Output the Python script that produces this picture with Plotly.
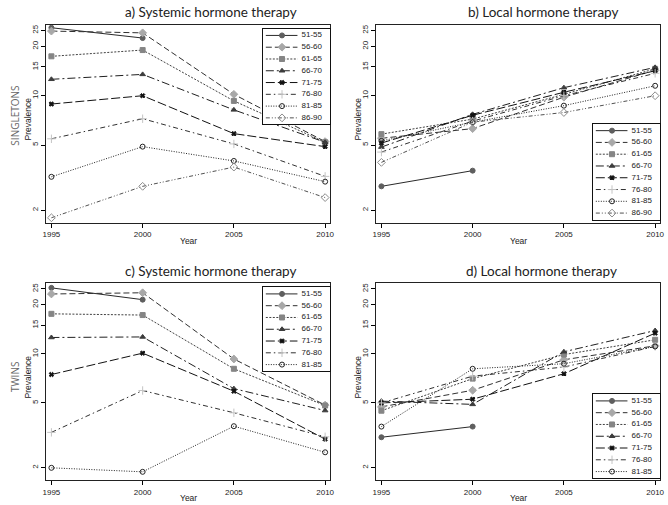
import plotly.graph_objects as go

# ---------------- data ----------------
years = [1995, 2000, 2005, 2010]
cohorts_singletons = ["51-55", "56-60", "61-65", "66-70", "71-75", "76-80", "81-85", "86-90"]
cohorts_twins = ["51-55", "56-60", "61-65", "66-70", "71-75", "76-80", "81-85"]
y_ticks = [2, 5, 10, 15, 20, 25]

singletons_systemic = [
    [26.0, 22.5, None, None],
    [24.8, 24.2, 10.2, 5.25],
    [17.4, 19.0, 9.3, 5.2],
    [12.6, 13.5, 8.2, 5.2],
    [8.9, 10.0, 5.87, 4.89],
    [5.46, 7.24, 5.08, 3.22],
    [3.2, 4.89, 4.0, 2.99],
    [1.8, 2.8, 3.67, 2.39],
]
singletons_local = [
    [2.8, 3.49, None, None],
    [5.5, 6.3, 9.8, 14.3],
    [5.83, 7.2, 10.2, 14.6],
    [4.86, 7.7, 11.2, 14.9],
    [5.14, 7.6, 10.5, 14.2],
    [4.53, 7.0, 10.0, 13.7],
    [5.3, 6.9, 8.7, 11.5],
    [3.92, 6.9, 7.9, 10.0],
]
twins_systemic = [
    [25.4, 21.5, None, None],
    [23.3, 23.7, 9.3, 4.85],
    [17.6, 17.3, 8.1, 4.82],
    [12.6, 12.7, 6.12, 4.49],
    [7.47, 10.1, 5.9, 3.0],
    [3.3, 5.96, 4.35, 3.1],
    [2.0, 1.89, 3.6, 2.49],
]
twins_local = [
    [3.08, 3.58, None, None],
    [4.73, 5.98, 9.2, 11.2],
    [4.48, 7.05, 9.9, 12.2],
    [5.13, 4.9, 10.3, 13.9],
    [5.0, 5.27, 7.55, 13.4],
    [5.0, 7.3, 8.3, 11.1],
    [3.58, 8.1, 8.7, 11.1],
]

panel_titles = ["a) Systemic hormone therapy", "b) Local hormone therapy",
                "c) Systemic hormone therapy", "d) Local hormone therapy"]

# ---------------- styles / layout ----------------
W, H = 668, 505


def px(x):
    return x / W


def py(y):
    return 1 - y / H


STYLES = [
    dict(symbol="circle", mcolor="#5f5f5f", lcolor="#2a2a2a", dash="solid", size=5),
    dict(symbol="diamond", mcolor="#a8a8a8", lcolor="#303030", dash="6px,3px", size=6),
    dict(symbol="square", mcolor="#858585", lcolor="#404040", dash="2px,1.5px", size=5),
    dict(symbol="triangle-up", mcolor="#3c3c3c", lcolor="#202020", dash="8px,3px,2px,3px", size=5),
    dict(symbol="x", mcolor="#111111", lcolor="#111111", dash="9px,3px", size=4),
    dict(symbol="cross-thin", mcolor="#c4c4c4", lcolor="#303030", dash="5px,3px,1.5px,3px", size=6),
    dict(symbol="circle-open", mcolor="#222222", lcolor="#222222", dash="1px,1.5px", size=5),
    dict(symbol="diamond-open", mcolor="#8c8c8c", lcolor="#505050", dash="4px,2px,1px,2px,1px,2px", size=6),
]

# plot boxes in reference pixels (x0, x1, y0, y1)
BOXES = [(43, 330, 24, 222), (377, 664, 24, 222), (43, 330, 283, 480), (377, 664, 283, 480)]
XRANGE = [1994.73, 2010.27]
YRANGE_LOG = [0.226, 1.432]
LEG = [(262, 330, 28, "top"), (596, 664, 219, "bottom"), (262, 330, 287, "top"), (596, 664, 478, "bottom")]
TITLE_POS = [(210, 11), (546, 11), (210, 271), (544, 271)]

panels = [(singletons_systemic, cohorts_singletons), (singletons_local, cohorts_singletons),
          (twins_systemic, cohorts_twins), (twins_local, cohorts_twins)]

fig = go.Figure()
TICKFONT = dict(family="Liberation Sans, Arial", size=8, color="#222")
SMALL = dict(family="Liberation Sans, Arial", size=8.5, color="#222")
ann = []
layout = {}


def A(text, x, y, font, angle=0):
    return dict(text=text, x=px(x), y=py(y), xref="paper", yref="paper", xanchor="center",
                yanchor="middle", textangle=angle, showarrow=False, font=font)


for p, (data, labels) in enumerate(panels):
    n = p + 1
    xs = "x" if n == 1 else f"x{n}"
    ys = "y" if n == 1 else f"y{n}"
    for k, vals in enumerate(data):
        st = STYLES[k]
        fig.add_trace(go.Scatter(
            x=years, y=vals, mode="lines+markers", xaxis=xs, yaxis=ys,
            line=dict(color=st["lcolor"], width=1, dash=st["dash"]),
            marker=dict(symbol=st["symbol"], size=st["size"], color=st["mcolor"],
                        line=dict(color=st["mcolor"], width=1)),
            showlegend=False, connectgaps=False, cliponaxis=False))
    x0, x1, y0, y1 = BOXES[p]
    layout[f"xaxis{'' if n == 1 else n}"] = dict(
        domain=[px(x0), px(x1)], anchor=ys, range=XRANGE,
        tickvals=years, ticks="outside", ticklen=4, tickcolor="#000",
        showline=True, mirror=True, linecolor="#222", linewidth=1,
        showgrid=False, zeroline=False, tickfont=TICKFONT)
    layout[f"yaxis{'' if n == 1 else n}"] = dict(
        domain=[py(y1), py(y0)], anchor=xs, type="log", range=YRANGE_LOG,
        tickvals=y_ticks, ticktext=[str(t) for t in y_ticks], tickangle=-90,
        ticks="outside", ticklen=4, tickcolor="#000",
        showline=True, mirror=True, linecolor="#222", linewidth=1,
        showgrid=False, zeroline=False, tickfont=TICKFONT)

    ann.append(A("Prevalence", x0 - 19, (y0 + y1) / 2 - 5, SMALL, -90))
    ann.append(A("Year", (x0 + x1) / 2, y1 + 18, SMALL))
    tx, ty = TITLE_POS[p]
    ann.append(A(panel_titles[p], tx, ty, dict(family="Lato, Open Sans", size=13.5, color="#222")))

    # ---- legend built as a small overlay subplot ----
    m = n + 4
    lx0, lx1, ly, anchor = LEG[p]
    nitem = len(labels)
    step, pad = 11.8, 6.5
    lh = 2 * pad + (nitem - 1) * step
    if anchor == "top":
        top, bot = ly, ly + lh
    else:
        top, bot = ly - lh, ly
    lw = lx1 - lx0
    layout[f"xaxis{m}"] = dict(domain=[px(lx0), px(lx1)], anchor=f"y{m}", range=[0, lw],
                               showline=True, mirror=True, linecolor="#111", linewidth=1,
                               showticklabels=False, ticks="", showgrid=False, zeroline=False, fixedrange=True)
    layout[f"yaxis{m}"] = dict(domain=[py(bot), py(top)], anchor=f"x{m}", range=[lh, 0],
                               showline=True, mirror=True, linecolor="#111", linewidth=1,
                               showticklabels=False, ticks="", showgrid=False, zeroline=False, fixedrange=True)
    for k, lab in enumerate(labels):
        st = STYLES[k]
        yy = pad + k * step
        fig.add_trace(go.Scatter(x=[3, lw * 0.515], y=[yy, yy], mode="lines", xaxis=f"x{m}", yaxis=f"y{m}",
                                 line=dict(color=st["lcolor"], width=1, dash=st["dash"]),
                                 showlegend=False, hoverinfo="skip"))
        fig.add_trace(go.Scatter(x=[lw * 0.285], y=[yy], mode="markers", xaxis=f"x{m}", yaxis=f"y{m}",
                                 marker=dict(symbol=st["symbol"], size=st["size"], color=st["mcolor"],
                                             line=dict(color=st["mcolor"], width=1)),
                                 showlegend=False, hoverinfo="skip"))
        fig.add_trace(go.Scatter(x=[lw * 0.575], y=[yy], mode="text", text=[lab], textposition="middle right",
                                 xaxis=f"x{m}", yaxis=f"y{m}",
                                 textfont=dict(family="Liberation Sans, Arial", size=8, color="#222"),
                                 showlegend=False, hoverinfo="skip"))

ann.append(A("SINGLETONS", 11, 115, dict(family="Open Sans", size=10, color="#666"), -90))
ann.append(A("TWINS", 11, 376, dict(family="Open Sans", size=10, color="#666"), -90))

fig.update_layout(**layout)
fig.update_layout(width=W, height=H, margin=dict(l=0, r=0, t=0, b=0),
                  paper_bgcolor="white", plot_bgcolor="white", annotations=ann, showlegend=False,
                  hovermode=False)
fig.write_html("out.html", config={"displayModeBar": False, "staticPlot": True},
               post_script="document.body.style.margin='0';document.body.style.overflow='hidden';")
